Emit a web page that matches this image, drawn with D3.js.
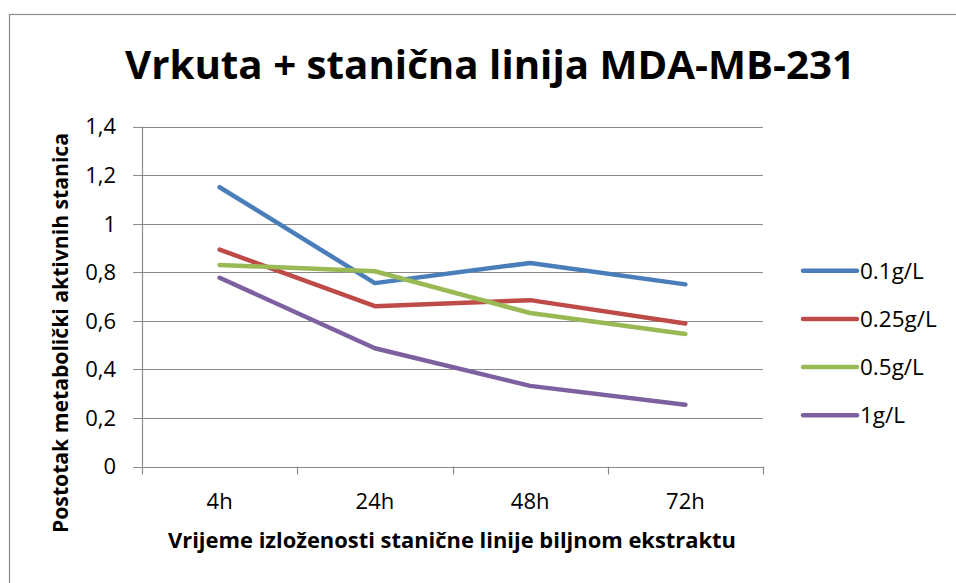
<!DOCTYPE html>
<html>
<head>
<meta charset="utf-8">
<script src="https://cdn.jsdelivr.net/npm/d3@7"></script>
<style>
  html, body { margin: 0; padding: 0; background: #fff; }
  svg { display: block; }
  text { font-family: "Open Sans", "Noto Sans", sans-serif; fill: #000; }
</style>
</head>
<body>
<svg id="chart" width="956" height="583"></svg>
<script>
const categories = ["4h", "24h", "48h", "72h"];
const seriesNames = ["0.1g/L", "0.25g/L", "0.5g/L", "1g/L"];
const s01 = [1.15, 0.755, 0.838, 0.75];
const s025 = [0.893, 0.66, 0.685, 0.589];
const s05 = [0.83, 0.804, 0.632, 0.546];
const s1 = [0.777, 0.487, 0.332, 0.254];
const seriesColors = ["#4a7ebb", "#be4b48", "#98b954", "#7d60a0"];
const yTicks = [0, 0.2, 0.4, 0.6, 0.8, 1, 1.2, 1.4];
const yTickLabels = ["0", "0,2", "0,4", "0,6", "0,8", "1", "1,2", "1,4"];
const titleText = "Vrkuta + stanična linija MDA-MB-231";
const xTitleText = "Vrijeme izloženosti stanične linije biljnom ekstraktu";
const yTitleText = "Postotak metabolički aktivnih stanica";

(function () {
const series = [s01, s025, s05, s1].map((v, i) => ({ name: seriesNames[i], values: v, color: seriesColors[i] }));

const svg = d3.select("#chart");
const pLeft = 142, pRight = 763, pTop = 126.5, pBottom = 466.5;
const gridColor = "#8a8a8a";

// outer border
svg.append("rect").attr("x", 9.5).attr("y", 14.5).attr("width", 980).attr("height", 620)
  .attr("fill", "none").attr("stroke", "#8c8c8c").attr("stroke-width", 1.2);

const x = d3.scaleBand().domain(categories).range([pLeft, pRight]).padding(0);
const y = d3.scaleLinear().domain([0, 1.4]).range([pBottom, pTop]);

function fit(sel, target) {
  sel.attr("textLength", target).attr("lengthAdjust", "spacingAndGlyphs");
}

// gridlines
svg.append("g").selectAll("line").data(yTicks).join("line")
  .attr("x1", pLeft - 9).attr("x2", pRight)
  .attr("y1", d => Math.round(y(d)) + 0.5).attr("y2", d => Math.round(y(d)) + 0.5)
  .attr("stroke", gridColor).attr("stroke-width", 1.2);

// y axis line
svg.append("line").attr("x1", pLeft + 0.5).attr("x2", pLeft + 0.5)
  .attr("y1", y(1.4)).attr("y2", y(0)).attr("stroke", gridColor).attr("stroke-width", 1.2);

// y tick labels via axis
const yAxis = d3.axisLeft(y).tickValues(yTicks).tickFormat((d, i) => yTickLabels[i]).tickSize(0).tickPadding(26);
const gy = svg.append("g").attr("transform", `translate(${pLeft},0)`).call(yAxis);
gy.select(".domain").remove();
gy.selectAll("text").attr("font-size", 22).attr("font-family", "Open Sans").attr("fill", "#000").attr("dy", "0.34em");

// x tick marks at band boundaries
const boundaries = categories.map(c => x(c)).concat([x(categories[categories.length - 1]) + x.bandwidth()]);
svg.append("g").selectAll("line").data(boundaries).join("line")
  .attr("x1", d => Math.round(d) + 0.5).attr("x2", d => Math.round(d) + 0.5)
  .attr("y1", y(0)).attr("y2", y(0) + 8)
  .attr("stroke", gridColor).attr("stroke-width", 1.2);

// x tick labels via axis
const xAxis = d3.axisBottom(x).tickSize(0).tickPadding(27);
const gx = svg.append("g").attr("transform", `translate(0,${pBottom})`).call(xAxis);
gx.select(".domain").remove();
gx.selectAll("text").attr("font-size", 22).attr("font-family", "Open Sans").attr("fill", "#000").attr("dy", "0.71em");

// lines
const line = d3.line().x((d, i) => x(categories[i]) + x.bandwidth() / 2).y(d => y(d));
svg.append("g").selectAll("path").data(series).join("path")
  .attr("d", d => line(d.values))
  .attr("fill", "none").attr("stroke", d => d.color).attr("stroke-width", 4.5)
  .attr("stroke-linecap", "round").attr("stroke-linejoin", "round");

// legend
const lg = svg.append("g").selectAll("g").data(series).join("g")
  .attr("transform", (d, i) => `translate(803,${270.7 + i * 48.2})`);
lg.append("line").attr("x1", 0).attr("x2", 54).attr("y1", 0).attr("y2", 0)
  .attr("stroke", d => d.color).attr("stroke-width", 4.5).attr("stroke-linecap", "round");
lg.append("text").attr("x", 57).attr("y", 0).attr("dy", "0.35em").attr("font-size", 22.5).text(d => d.name);

// title
const t = svg.append("text").attr("x", 490).attr("y", 79).attr("text-anchor", "middle")
  .attr("font-weight", "bold").attr("font-size", 40).text(titleText);
fit(t, 730);

// x title
const xt = svg.append("text").attr("x", 452).attr("y", 548).attr("text-anchor", "middle")
  .attr("font-weight", "bold").attr("font-size", 21).text(xTitleText);
fit(xt, 568);

// y title
const yt = svg.append("text").attr("transform", "translate(68,333) rotate(-90)").attr("text-anchor", "middle")
  .attr("font-weight", "bold").attr("font-size", 20.5).text(yTitleText);
fit(yt, 400);
})();
</script>
</body>
</html>
